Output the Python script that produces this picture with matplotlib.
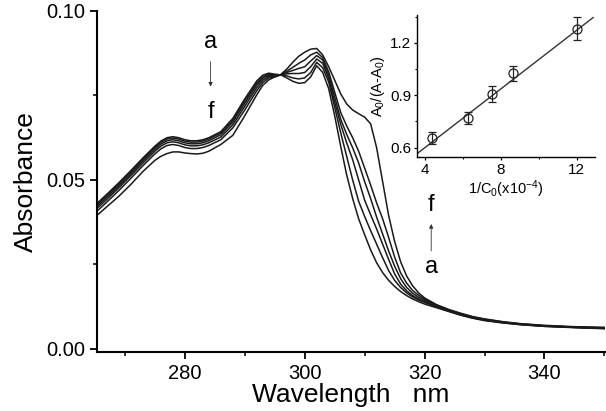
import matplotlib
matplotlib.use("Agg")
import matplotlib.pyplot as plt
from matplotlib.ticker import MultipleLocator

plt.rcParams['font.family'] = ['Liberation Sans', 'DejaVu Sans']
plt.rcParams['mathtext.fontset'] = 'custom'
plt.rcParams['mathtext.rm'] = 'Liberation Sans'
plt.rcParams['mathtext.it'] = 'Liberation Sans'

# ---------------- data ----------------
wavelength = [265, 267, 269, 271, 273, 275, 276, 277, 278, 279, 280, 281, 282, 283, 284,
              286, 288, 290, 292, 293, 294, 295, 296, 297, 298, 299, 300, 301, 302, 303,
              304, 305, 306, 307, 308, 309, 310, 311, 312, 313, 314, 315, 316, 317, 318,
              319, 320, 322, 324, 326, 328, 330, 333, 336, 340, 345, 350]

abs_a = [0.0425, 0.0458, 0.0492, 0.0528, 0.0565, 0.0600, 0.0615, 0.0625, 0.0628, 0.0625,
         0.0619, 0.0616, 0.0616, 0.0619, 0.0625, 0.0643, 0.0682, 0.0740, 0.0793, 0.0810,
         0.0816, 0.0813, 0.0811, 0.0802, 0.0792, 0.0786, 0.0788, 0.0805, 0.0838, 0.0818,
         0.0770, 0.0690, 0.0600, 0.0515, 0.0445, 0.0385, 0.0338, 0.0293, 0.0255, 0.0226,
         0.0203, 0.0185, 0.0170, 0.0158, 0.0148, 0.0140, 0.0133, 0.0122, 0.0111, 0.0100,
         0.0091, 0.0084, 0.0077, 0.0072, 0.0067, 0.0063, 0.0060]

abs_b = [0.0421, 0.0454, 0.0488, 0.0524, 0.0561, 0.0596, 0.0611, 0.0621, 0.0624, 0.0621,
         0.0615, 0.0612, 0.0612, 0.0615, 0.0621, 0.0639, 0.0677, 0.0734, 0.0787, 0.0805,
         0.0813, 0.0811, 0.0811, 0.0808, 0.0802, 0.0799, 0.0802, 0.0818, 0.0848, 0.0832,
         0.0790, 0.0715, 0.0640, 0.0570, 0.0500, 0.0437, 0.0392, 0.0350, 0.0310, 0.0270,
         0.0232, 0.0203, 0.0182, 0.0166, 0.0154, 0.0145, 0.0138, 0.0124, 0.0112, 0.0101,
         0.0092, 0.0085, 0.0078, 0.0072, 0.0067, 0.0064, 0.0061]

abs_c = [0.0416, 0.0449, 0.0483, 0.0519, 0.0556, 0.0591, 0.0606, 0.0616, 0.0619, 0.0616,
         0.0610, 0.0607, 0.0607, 0.0610, 0.0616, 0.0634, 0.0671, 0.0727, 0.0781, 0.0801,
         0.0810, 0.0809, 0.0811, 0.0814, 0.0815, 0.0815, 0.0818, 0.0835, 0.0858, 0.0845,
         0.0800, 0.0730, 0.0665, 0.0610, 0.0560, 0.0500, 0.0440, 0.0397, 0.0355, 0.0310,
         0.0265, 0.0222, 0.0192, 0.0172, 0.0158, 0.0148, 0.0140, 0.0126, 0.0113, 0.0102,
         0.0093, 0.0086, 0.0079, 0.0073, 0.0068, 0.0064, 0.0061]

abs_d = [0.0410, 0.0443, 0.0477, 0.0513, 0.0550, 0.0585, 0.0600, 0.0610, 0.0613, 0.0610,
         0.0604, 0.0601, 0.0601, 0.0604, 0.0610, 0.0627, 0.0663, 0.0718, 0.0773, 0.0795,
         0.0806, 0.0807, 0.0811, 0.0818, 0.0824, 0.0830, 0.0835, 0.0852, 0.0868, 0.0855,
         0.0810, 0.0745, 0.0680, 0.0635, 0.0595, 0.0550, 0.0495, 0.0445, 0.0390, 0.0340,
         0.0290, 0.0245, 0.0208, 0.0182, 0.0165, 0.0153, 0.0144, 0.0128, 0.0114, 0.0103,
         0.0094, 0.0087, 0.0079, 0.0074, 0.0068, 0.0065, 0.0062]

abs_e = [0.0402, 0.0435, 0.0469, 0.0505, 0.0542, 0.0577, 0.0592, 0.0602, 0.0605, 0.0602,
         0.0596, 0.0593, 0.0593, 0.0596, 0.0602, 0.0619, 0.0654, 0.0707, 0.0764, 0.0788,
         0.0802, 0.0805, 0.0811, 0.0822, 0.0833, 0.0845, 0.0855, 0.0870, 0.0878, 0.0862,
         0.0820, 0.0760, 0.0700, 0.0660, 0.0625, 0.0585, 0.0535, 0.0485, 0.0432, 0.0385,
         0.0330, 0.0272, 0.0225, 0.0195, 0.0173, 0.0159, 0.0148, 0.0130, 0.0116, 0.0104,
         0.0095, 0.0088, 0.0080, 0.0074, 0.0069, 0.0065, 0.0063]

abs_f = [0.0390, 0.0421, 0.0452, 0.0487, 0.0525, 0.0558, 0.0570, 0.0578, 0.0583, 0.0583,
         0.0580, 0.0578, 0.0577, 0.0579, 0.0585, 0.0605, 0.0632, 0.0690, 0.0752, 0.0780,
         0.0796, 0.0805, 0.0812, 0.0828, 0.0848, 0.0866, 0.0878, 0.0887, 0.0889, 0.0870,
         0.0835, 0.0795, 0.0755, 0.0725, 0.0707, 0.0696, 0.0686, 0.0666, 0.0595, 0.0495,
         0.0395, 0.0318, 0.0258, 0.0216, 0.0187, 0.0166, 0.0151, 0.0131, 0.0117, 0.0106,
         0.0096, 0.0089, 0.0081, 0.0075, 0.0070, 0.0066, 0.0064]

# inset: A0/(A-A0) vs 1/C0
inv_conc = [4.35, 6.28, 7.51, 8.65, 12.0]
ratio = [0.654, 0.768, 0.907, 1.025, 1.282]
ratio_err = [0.035, 0.035, 0.045, 0.045, 0.065]
fit_slope = 0.084
fit_intercept = 0.265
fit_range = [3.56, 12.86]

spectra = [abs_a, abs_b, abs_c, abs_d, abs_e, abs_f]

# ---------------- figure ----------------
fig = plt.figure(figsize=(6.06, 4.11), dpi=100)
ax = fig.add_axes([0.1596, 0.1443, 0.8388, 0.829])

for s in spectra:
    ax.plot(wavelength, s, color='#1a1a1a', lw=1.1)

ax.set_xlim(265.3, 350.1)
ax.set_ylim(-0.0008, 0.1)
ax.xaxis.set_major_locator(MultipleLocator(20))
ax.xaxis.set_minor_locator(MultipleLocator(10))
ax.yaxis.set_major_locator(MultipleLocator(0.05))
ax.yaxis.set_minor_locator(MultipleLocator(0.025))
ax.yaxis.set_major_formatter(plt.FuncFormatter(lambda v, p: f"{v:.2f}"))
for sp in ['top', 'right']:
    ax.spines[sp].set_visible(False)
for sp in ['left', 'bottom']:
    ax.spines[sp].set_linewidth(1.5)
ax.tick_params(which='major', direction='out', length=5, width=1.3, labelsize=14.5, pad=3)
ax.tick_params(axis='x', which='major', pad=4)
ax.tick_params(which='minor', direction='out', length=3, width=1.1)
ax.set_xlabel('Wavelength   nm', fontsize=19, labelpad=0)
ax.set_ylabel('Absorbance', fontsize=19, labelpad=6)

# annotations
ax.text(284.3, 0.0909, 'a', fontsize=17, ha='center', va='center')
ax.annotate('', xy=(284.3, 0.0768), xytext=(284.3, 0.0858),
            arrowprops=dict(arrowstyle='-|>', lw=0.6, color='#333333', mutation_scale=6))
ax.text(284.3, 0.0702, 'f', fontsize=17, ha='center', va='center')

ax.text(321.1, 0.0426, 'f', fontsize=17, ha='center', va='center')
ax.annotate('', xy=(321.1, 0.0378), xytext=(321.1, 0.0282),
            arrowprops=dict(arrowstyle='-|>', lw=0.6, color='#333333', mutation_scale=6))
ax.text(321.1, 0.0243, 'a', fontsize=17, ha='center', va='center')

# inset
ins = fig.add_axes([0.6876, 0.6173, 0.2942, 0.3462])
ins.plot(fit_range, [fit_intercept + fit_slope * v for v in fit_range],
         color='#333333', lw=1.0)
ins.errorbar(inv_conc, ratio, yerr=ratio_err, fmt='o', mfc='none', mec='#222222',
             ms=6.5, mew=0.9, ecolor='#222222', elinewidth=0.9, capsize=3, capthick=0.9)
ins.set_xlim(3.56, 12.96)
ins.set_ylim(0.545, 1.36)
ins.xaxis.set_major_locator(MultipleLocator(4))
ins.xaxis.set_minor_locator(MultipleLocator(2))
ins.yaxis.set_major_locator(MultipleLocator(0.3))
ins.yaxis.set_minor_locator(MultipleLocator(0.15))
ins.yaxis.set_major_formatter(plt.FuncFormatter(lambda v, p: f"{v:.1f}"))
for sp in ['top', 'right']:
    ins.spines[sp].set_visible(False)
for sp in ['left', 'bottom']:
    ins.spines[sp].set_linewidth(1.0)
ins.tick_params(which='major', direction='out', length=2.5, width=0.9, labelsize=11, pad=1.5)
ins.tick_params(which='minor', direction='out', length=1.5, width=0.8)
ins.patch.set_alpha(0)
ins.set_xlabel(r'1/C$_0$(x10$^{-4}$)', fontsize=10.5, labelpad=1)
ins.set_ylabel(r'A$_0$/(A-A$_0$)', fontsize=10.5, labelpad=2)

fig.savefig('out.png', dpi=100)
